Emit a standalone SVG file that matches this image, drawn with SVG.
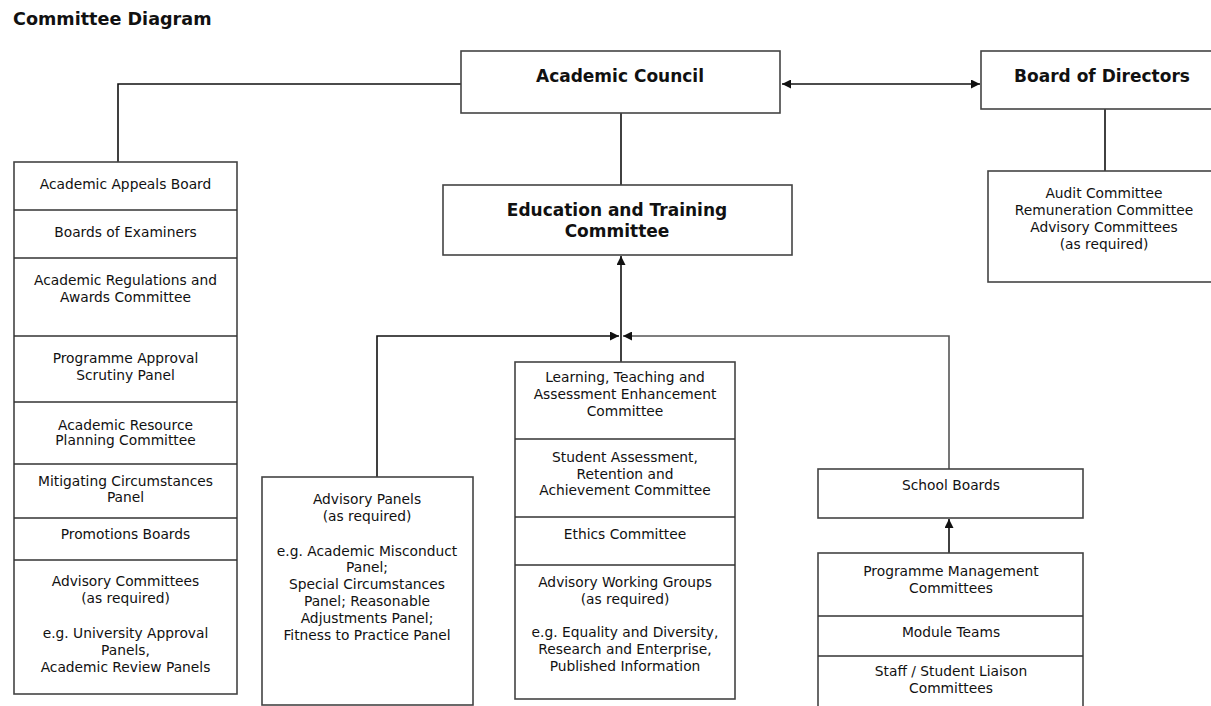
<svg xmlns="http://www.w3.org/2000/svg" width="1211" height="706" viewBox="0 0 1211 706">
<style>
text{font-family:"DejaVu Sans","Liberation Sans",sans-serif;fill:#111;text-anchor:middle}
.t{font-size:13.8px}
.b{font-size:17px;font-weight:bold}
.title{font-size:17.6px;font-weight:bold;text-anchor:start}
.box{fill:#fff;stroke:#444;stroke-width:1.6}
.div{stroke:#333;stroke-width:1.6}
.c{fill:none;stroke:#111;stroke-width:1.6}
</style>
<defs>
<marker id="ah" viewBox="0 0 9 9" refX="9" refY="4.5" markerWidth="9" markerHeight="9" markerUnits="userSpaceOnUse" orient="auto-start-reverse">
<path d="M0,0 L9,4.5 L0,9 z" fill="#111"/>
</marker>
</defs>
<rect width="1211" height="706" fill="#fff"/>
<text class="title" x="13" y="25">Committee Diagram</text>

<g id="connectors">
<path class="c" d="M461,84 H118 V162"/>
<path class="c" d="M621,113 V185"/>
<path class="c" d="M782,84 H980" marker-start="url(#ah)" marker-end="url(#ah)"/>
<path class="c" d="M1105,109 V171"/>
<path class="c" d="M621,362 V256" marker-end="url(#ah)"/>
<path class="c" d="M377,477 V336 H619" marker-end="url(#ah)"/>
<path class="c" d="M949,469 V336 H623" marker-end="url(#ah)" style="stroke:#555"/>
<path class="c" d="M949,553 V519" marker-end="url(#ah)"/>
</g>

<g id="academic-council">
<rect class="box" x="461" y="51" width="319" height="62"/>
<text class="b" x="620" y="82">Academic Council</text>
</g>

<g id="board-of-directors">
<rect class="box" x="981" y="51" width="232" height="58"/>
<text class="b" x="1102" y="82">Board of Directors</text>
</g>

<g id="audit">
<rect class="box" x="988" y="171" width="225" height="111"/>
<text class="t" x="1104" y="198">Audit Committee</text>
<text class="t" x="1104" y="215">Remuneration Committee</text>
<text class="t" x="1104" y="232">Advisory Committees</text>
<text class="t" x="1104" y="249">(as required)</text>
</g>

<g id="education-training">
<rect class="box" x="443" y="185" width="349" height="70"/>
<text class="b" x="617" y="216">Education and Training</text>
<text class="b" x="617" y="237">Committee</text>
</g>

<g id="left-column">
<rect class="box" x="14" y="162" width="223" height="532"/>
<line class="div" x1="14" y1="210" x2="237" y2="210"/>
<line class="div" x1="14" y1="258" x2="237" y2="258"/>
<line class="div" x1="14" y1="336" x2="237" y2="336"/>
<line class="div" x1="14" y1="402" x2="237" y2="402"/>
<line class="div" x1="14" y1="464" x2="237" y2="464"/>
<line class="div" x1="14" y1="518" x2="237" y2="518"/>
<line class="div" x1="14" y1="560" x2="237" y2="560"/>
<text class="t" x="125.5" y="189">Academic Appeals Board</text>
<text class="t" x="125.5" y="237">Boards of Examiners</text>
<text class="t" x="125.5" y="285">Academic Regulations and</text>
<text class="t" x="125.5" y="302">Awards Committee</text>
<text class="t" x="125.5" y="363">Programme Approval</text>
<text class="t" x="125.5" y="380">Scrutiny Panel</text>
<text class="t" x="125.5" y="430">Academic Resource</text>
<text class="t" x="125.5" y="445">Planning Committee</text>
<text class="t" x="125.5" y="486">Mitigating Circumstances</text>
<text class="t" x="125.5" y="502">Panel</text>
<text class="t" x="125.5" y="539">Promotions Boards</text>
<text class="t" x="125.5" y="586">Advisory Committees</text>
<text class="t" x="125.5" y="603">(as required)</text>
<text class="t" x="125.5" y="638">e.g. University Approval</text>
<text class="t" x="125.5" y="655">Panels,</text>
<text class="t" x="125.5" y="672">Academic Review Panels</text>
</g>

<g id="advisory-panels">
<rect class="box" x="262" y="477" width="211" height="228"/>
<text class="t" x="367" y="504">Advisory Panels</text>
<text class="t" x="367" y="521">(as required)</text>
<text class="t" x="367" y="556">e.g. Academic Misconduct</text>
<text class="t" x="367" y="572">Panel;</text>
<text class="t" x="367" y="589">Special Circumstances</text>
<text class="t" x="367" y="606">Panel; Reasonable</text>
<text class="t" x="367" y="623">Adjustments Panel;</text>
<text class="t" x="367" y="640">Fitness to Practice Panel</text>
</g>

<g id="middle-column">
<rect class="box" x="515" y="362" width="220" height="337"/>
<line class="div" x1="515" y1="439" x2="735" y2="439"/>
<line class="div" x1="515" y1="517" x2="735" y2="517"/>
<line class="div" x1="515" y1="565" x2="735" y2="565"/>
<text class="t" x="625" y="382">Learning, Teaching and</text>
<text class="t" x="625" y="399">Assessment Enhancement</text>
<text class="t" x="625" y="416">Committee</text>
<text class="t" x="625" y="462">Student Assessment,</text>
<text class="t" x="625" y="479">Retention and</text>
<text class="t" x="625" y="495">Achievement Committee</text>
<text class="t" x="625" y="539">Ethics Committee</text>
<text class="t" x="625" y="587">Advisory Working Groups</text>
<text class="t" x="625" y="604">(as required)</text>
<text class="t" x="625" y="637">e.g. Equality and Diversity,</text>
<text class="t" x="625" y="654">Research and Enterprise,</text>
<text class="t" x="625" y="671">Published Information</text>
</g>

<g id="school-boards">
<rect class="box" x="818" y="469" width="265" height="49"/>
<text class="t" x="951" y="490">School Boards</text>
</g>

<g id="programme-column">
<rect class="box" x="818" y="553" width="265" height="160"/>
<line class="div" x1="818" y1="616" x2="1083" y2="616"/>
<line class="div" x1="818" y1="656" x2="1083" y2="656"/>
<text class="t" x="951" y="576">Programme Management</text>
<text class="t" x="951" y="593">Committees</text>
<text class="t" x="951" y="637">Module Teams</text>
<text class="t" x="951" y="676">Staff / Student Liaison</text>
<text class="t" x="951" y="693">Committees</text>
</g>
</svg>
